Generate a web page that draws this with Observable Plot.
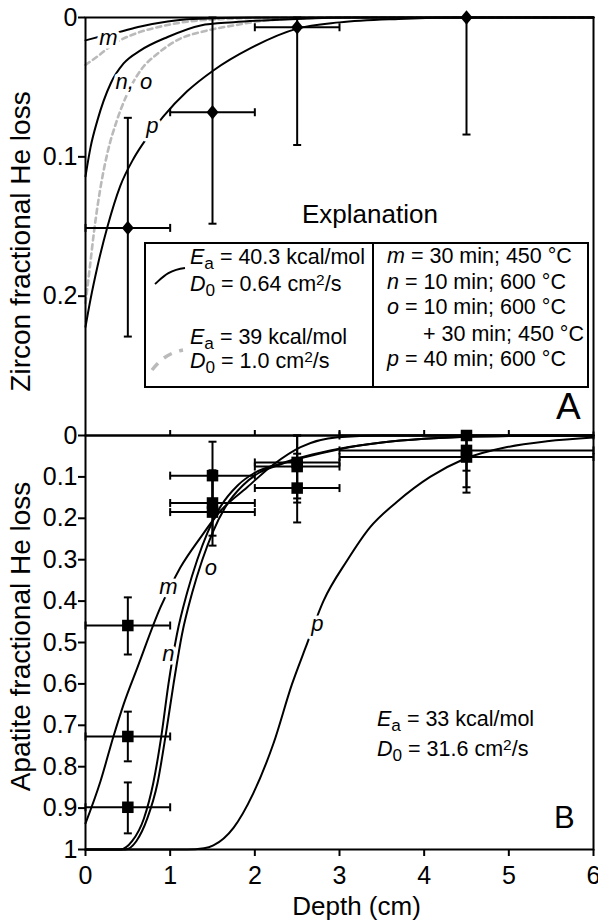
<!DOCTYPE html>
<html><head><meta charset="utf-8">
<script src="https://cdn.jsdelivr.net/npm/d3@7"></script>
<script src="https://cdn.jsdelivr.net/npm/@observablehq/plot@0.6"></script>
<style>
body{margin:0;background:#fff;}
#wrap{position:relative;width:598px;height:923px;font-family:"Liberation Sans",Arial,sans-serif;color:#000;overflow:hidden;background:#fff;}
#wrap svg{position:absolute;left:0;}
.t{position:absolute;white-space:nowrap;line-height:1;}
.t i{font-style:italic}
.t sub{font-size:0.8em;vertical-align:-0.3em;line-height:0}
.t sup{font-size:0.72em;vertical-align:0.42em;line-height:0}
.box{position:absolute;border:2px solid #000;box-sizing:border-box;background:#fff;}
</style></head>
<body><div id="wrap"></div>
<script>
// ---------- ticks ----------
const xTicks = [0, 1, 2, 3, 4, 5, 6];
const xTopTicks = [1, 2, 3, 4, 5];
const zirconTicks = [0, 0.1, 0.2];
const apatiteTicks = [0, 0.1, 0.2, 0.3, 0.4, 0.5, 0.6, 0.7, 0.8, 0.9, 1];

// ---------- Panel A: zircon measured ----------
const zDepth   = [0.5, 1.5, 2.5, 4.5];
const zLoss    = [0.151, 0.068, 0.007, 0.0];
const zDepthLo = [0, 1, 2, null];
const zDepthHi = [1, 2, 3, null];
const zLossLo  = [0.072, 0.0, 0.0, 0.0];
const zLossHi  = [0.229, 0.148, 0.0915, 0.084];

// Panel A model curves (Ea = 40.3, D0 = 0.64) solid
const zmDepth  = [0, 0.1, 0.2, 0.39, 0.65, 0.97, 1.2, 1.6, 2.2, 6];
const zmLoss   = [0.0164, 0.0148, 0.0133, 0.0105, 0.0064, 0.0028, 0.0013, 0.0004, 0, 0];
const znoDepth = [0, 0.06, 0.14, 0.3, 0.45, 0.65, 0.97, 1.36, 1.75, 2.5, 3.2, 6];
const znoLoss  = [0.114, 0.093, 0.074, 0.047, 0.033, 0.0236, 0.014, 0.0057, 0.0034, 0.001, 0, 0];
const zpDepth  = [0, 0.06, 0.14, 0.26, 0.41, 0.57, 0.73, 0.92, 1.2, 1.51, 1.95, 2.5, 3.0, 3.7, 4.5, 6];
const zpLoss   = [0.222, 0.202, 0.179, 0.15, 0.121, 0.101, 0.086, 0.071, 0.053, 0.038, 0.022, 0.008, 0.0035, 0.001, 0, 0];
// Panel A model curves (Ea = 39, D0 = 1.0) gray dashed
const gmDepth  = [0, 0.14, 0.33, 0.57, 0.85, 1.2, 1.6, 2.2, 6];
const gmLoss   = [0.034, 0.028, 0.019, 0.012, 0.007, 0.003, 0.0012, 0.0002, 0];
const gnoDepth = [0, 0.05, 0.1, 0.18, 0.26, 0.37, 0.5, 0.65, 0.85, 1.08, 1.44, 1.75, 2.15, 3, 6];
const gnoLoss  = [0.205, 0.18, 0.154, 0.121, 0.097, 0.074, 0.054, 0.038, 0.026, 0.0164, 0.0093, 0.0057, 0.002, 0, 0];

const zLabelText  = ["m", "n, o", "p"];
const zLabelDepth = [0.27, 0.57, 0.79];
const zLabelLoss  = [0.0146, 0.046, 0.078];

// ---------- Panel B: apatite measured ----------
const aDepth   = [0.5, 0.5, 0.5, 1.5, 1.5, 1.5, 2.5, 2.5, 2.5, 4.5, 4.5, 4.5];
const aLoss    = [0.459, 0.727, 0.898, 0.097, 0.163, 0.185, 0.065, 0.075, 0.127, 0.0, 0.036, 0.052];
const aDepthLo = [0, 0, 0, 1, 1, 1, 2, 2, 2, 3, 3, 3];
const aDepthHi = [1, 1, 1, 2, 2, 2, 3, 3, 3, 6, 6, 6];
const aLossLo  = [0.391, 0.667, 0.838, 0.015, 0.084, 0.104, 0, 0, 0.044, 0, 0, 0];
const aLossHi  = [0.529, 0.787, 0.961, 0.179, 0.242, 0.266, 0.152, 0.162, 0.21, 0.085, 0.125, 0.138];

// Panel B model curves (Ea = 33, D0 = 31.6)
const amDepth = [0, 0.177, 0.33, 0.449, 0.614, 0.885, 1.12, 1.36, 1.59, 1.91, 2.22, 2.54, 2.98, 3.5, 6];
const amLoss  = [0.937, 0.835, 0.727, 0.65, 0.56, 0.415, 0.319, 0.246, 0.183, 0.125, 0.07, 0.028, 0.004, 0, 0];
const anDepth = [0, 0.41, 0.55, 0.69, 0.8, 0.9, 0.98, 1.08, 1.2, 1.32, 1.44, 1.6, 1.8, 2.0, 2.3, 2.6, 3.0, 3.5, 4.0, 4.5, 5.0, 6];
const anLoss  = [1, 1, 0.98, 0.925, 0.84, 0.72, 0.6, 0.48, 0.38, 0.3, 0.235, 0.17, 0.12, 0.09, 0.068, 0.05, 0.032, 0.017, 0.008, 0.003, 0.001, 0];
const aoDepth = [0, 0.47, 0.6, 0.73, 0.85, 0.95, 1.04, 1.14, 1.26, 1.38, 1.5, 1.66, 1.86, 2.05, 2.3, 2.6, 3.0, 3.5, 4.0, 4.5, 5.0, 6];
const aoLoss  = [1, 1, 0.98, 0.925, 0.84, 0.72, 0.6, 0.48, 0.38, 0.3, 0.235, 0.17, 0.12, 0.09, 0.07, 0.052, 0.033, 0.017, 0.008, 0.003, 0.001, 0];
const apDepth = [0, 1.2, 1.4, 1.51, 1.75, 1.98, 2.22, 2.44, 2.6, 2.81, 3.09, 3.36, 3.68, 4.07, 4.46, 4.98, 5.45, 6];
const apLoss  = [1, 1, 0.997, 0.99, 0.947, 0.865, 0.744, 0.6, 0.512, 0.4, 0.302, 0.222, 0.16, 0.1, 0.058, 0.028, 0.014, 0.005];

const aLabelText  = ["m", "n", "o", "p"];
const aLabelDepth = [0.98, 0.98, 1.48, 2.74];
const aLabelLoss  = [0.367, 0.527, 0.319, 0.454];

// ---------- helpers ----------
const rows = (xs, ys) => xs.map((x, i) => ({x, y: ys[i]}));
const pts = (xs, ys, xlo, xhi, ylo, yhi) => xs.map((x, i) => ({x, y: ys[i], xlo: xlo[i], xhi: xhi[i], ylo: ylo[i], yhi: yhi[i]}));
const labels = (ts, xs, ys) => ts.map((t, i) => ({t, x: xs[i], y: ys[i]}));
const fmt = d => (d === 0 || d === 1) ? String(d) : d.toFixed(1);

const hCap = {draw(c, s) { const r = Math.sqrt(s / Math.PI); c.moveTo(-r, 0); c.lineTo(r, 0); }};
const vCap = {draw(c, s) { const r = Math.sqrt(s / Math.PI); c.moveTo(0, -r); c.lineTo(0, r); }};
const diamond = {draw(c, s) { const r = Math.sqrt(s / Math.PI); c.moveTo(0, -1.2 * r); c.lineTo(r, 0); c.lineTo(0, 1.2 * r); c.lineTo(-r, 0); c.closePath(); }};

function errorMarks(P) {
  const PX = P.filter(d => d.xlo != null);
  return [
    Plot.ruleY(PX, {y: "y", x1: "xlo", x2: "xhi", stroke: "black", strokeWidth: 2}),
    Plot.ruleX(P, {x: "x", y1: "ylo", y2: "yhi", stroke: "black", strokeWidth: 2}),
    Plot.dot(P, {x: "x", y: "ylo", symbol: hCap, r: 4, stroke: "black", strokeWidth: 2, fill: "none"}),
    Plot.dot(P, {x: "x", y: "yhi", symbol: hCap, r: 4, stroke: "black", strokeWidth: 2, fill: "none"}),
    Plot.dot(PX, {x: "xlo", y: "y", symbol: vCap, r: 4, stroke: "black", strokeWidth: 2, fill: "none"}),
    Plot.dot(PX, {x: "xhi", y: "y", symbol: vCap, r: 4, stroke: "black", strokeWidth: 2, fill: "none"})
  ];
}
const solid = (d) => Plot.line(d, {x: "x", y: "y", curve: "monotone-x", stroke: "black", strokeWidth: 2});
const dashed = (d) => Plot.line(d, {x: "x", y: "y", curve: "monotone-x", stroke: "#bababa", strokeWidth: 2.6, strokeDasharray: "5,4"});
const curveLabels = (d) => Plot.text(d, {x: "x", y: "y", text: "t", fontStyle: "italic", fontSize: 22, fill: "black", stroke: "white", strokeWidth: 7, paintOrder: "stroke"});

const style = {background: "transparent", fontFamily: "Liberation Sans, Arial, sans-serif", fontSize: "25px", color: "black", overflow: "visible"};

// ---------- Panel A ----------
const plotA = Plot.plot({
  width: 598, height: 440, marginLeft: 85, marginRight: 5, marginTop: 17, marginBottom: 5,
  style,
  x: {domain: [0, 6], axis: null},
  y: {domain: [0, 0.3], reverse: true},
  marks: [
    Plot.axisY(zirconTicks, {anchor: "left", tickSize: 7, tickPadding: 1, fontSize: 25, strokeWidth: 2, tickFormat: fmt, label: null}),
    dashed(rows(gmDepth, gmLoss)),
    dashed(rows(gnoDepth, gnoLoss)),
    solid(rows(zmDepth, zmLoss)),
    solid(rows(znoDepth, znoLoss)),
    solid(rows(zpDepth, zpLoss)),
    curveLabels(labels(zLabelText, zLabelDepth, zLabelLoss)),
    ...errorMarks(pts(zDepth, zLoss, zDepthLo, zDepthHi, zLossLo, zLossHi)),
    Plot.dot(rows(zDepth, zLoss), {x: "x", y: "y", symbol: diamond, r: 6, fill: "black", stroke: "none"}),
    Plot.text(["Zircon fractional He loss"], {text: d => d, frameAnchor: "left", textAnchor: "middle", lineAnchor: "middle", rotate: -90, dx: -64, dy: 15, fontSize: 28, fill: "black"}),
    Plot.frame({stroke: "black", strokeWidth: 2})
  ]
});
plotA.style.top = "0px";

// ---------- Panel B ----------
const plotB = Plot.plot({
  width: 598, height: 498, marginLeft: 85, marginRight: 5, marginTop: 10, marginBottom: 74,
  style,
  x: {domain: [0, 6]},
  y: {domain: [0, 1], reverse: true},
  marks: [
    Plot.axisY(apatiteTicks, {anchor: "left", tickSize: 7, tickPadding: 1, fontSize: 25, strokeWidth: 2, tickFormat: fmt, label: null}),
    Plot.axisX(xTicks, {anchor: "bottom", tickSize: 7, tickPadding: 10, fontSize: 25, strokeWidth: 2, tickFormat: d => String(d), label: null}),
    Plot.axisX(xTopTicks, {anchor: "top", tickSize: 6, strokeWidth: 2, tickFormat: () => "", label: null}),
    solid(rows(amDepth, amLoss)),
    solid(rows(anDepth, anLoss)),
    solid(rows(aoDepth, aoLoss)),
    solid(rows(apDepth, apLoss)),
    curveLabels(labels(aLabelText, aLabelDepth, aLabelLoss)),
    ...errorMarks(pts(aDepth, aLoss, aDepthLo, aDepthHi, aLossLo, aLossHi)),
    Plot.dot(rows(aDepth, aLoss), {x: "x", y: "y", symbol: "square", r: 6.5, fill: "black", stroke: "none"}),
    Plot.text(["Apatite fractional He loss"], {text: d => d, frameAnchor: "left", textAnchor: "middle", lineAnchor: "middle", rotate: -90, dx: -64, dy: -6, fontSize: 28, fill: "black"}),
    Plot.text(["Depth (cm)"], {text: d => d, frameAnchor: "bottom", textAnchor: "middle", lineAnchor: "middle", dx: 17, dy: 57, fontSize: 26, fill: "black"}),
    Plot.frame({stroke: "black", strokeWidth: 2})
  ]
});
plotB.style.top = "425px";

const wrap = document.getElementById("wrap");
wrap.appendChild(plotB);
wrap.appendChild(plotA);

// ---------- Legend / annotations (HTML) ----------
function addText(html, left, centerY, size, extra) {
  const d = document.createElement("div");
  d.className = "t";
  d.innerHTML = html;
  d.style.left = left + "px";
  d.style.top = (centerY - 0.4885 * size) + "px";
  d.style.fontSize = size + "px";
  if (extra) Object.assign(d.style, extra);
  wrap.appendChild(d);
  return d;
}
const box = document.createElement("div");
box.className = "box";
Object.assign(box.style, {left: "144px", top: "242px", width: "445px", height: "146px"});
wrap.appendChild(box);
const div = document.createElement("div");
Object.assign(div.style, {position: "absolute", left: "372px", top: "242px", width: "2px", height: "146px", background: "#000"});
wrap.appendChild(div);

// swatches
const sw = document.createElementNS("http://www.w3.org/2000/svg", "svg");
sw.setAttribute("width", "598"); sw.setAttribute("height", "440");
sw.style.position = "absolute"; sw.style.left = "0px"; sw.style.top = "0px"; sw.style.pointerEvents = "none";
sw.innerHTML = '<path d="M155,284 C162,278 168,270 185,268" fill="none" stroke="#000" stroke-width="2"/>' +
  '<path d="M152,370 C160,360 168,353 183,350" fill="none" stroke="#bababa" stroke-width="3.5" stroke-dasharray="9,8"/>';
wrap.appendChild(sw);

const LS = 21.5;
addText("Explanation", 302, 214, 26);
addText("<i>E</i><sub>a</sub> = 40.3 kcal/mol", 190, 258, LS);
addText("<i>D</i><sub>0</sub> = 0.64 cm<sup>2</sup>/s", 190, 285, LS);
addText("<i>E</i><sub>a</sub> = 39 kcal/mol", 190, 338, LS);
addText("<i>D</i><sub>0</sub> = 1.0 cm<sup>2</sup>/s", 190, 362, LS);
addText("<i>m</i> = 30 min; 450 °C", 387, 257, LS);
addText("<i>n</i> = 10 min; 600 °C", 387, 283, LS);
addText("<i>o</i> = 10 min; 600 °C", 387, 308, LS);
addText("+ 30 min; 450 °C", 423, 335, LS);
addText("<i>p</i> = 40 min; 600 °C", 387, 360, LS);
addText("A", 556, 406, 37);
addText("<i>E</i><sub>a</sub> = 33 kcal/mol", 377, 720, LS);
addText("<i>D</i><sub>0</sub> = 31.6 cm<sup>2</sup>/s", 377, 750, LS);
addText("B", 554, 817, 31);
</script>
</body></html>
